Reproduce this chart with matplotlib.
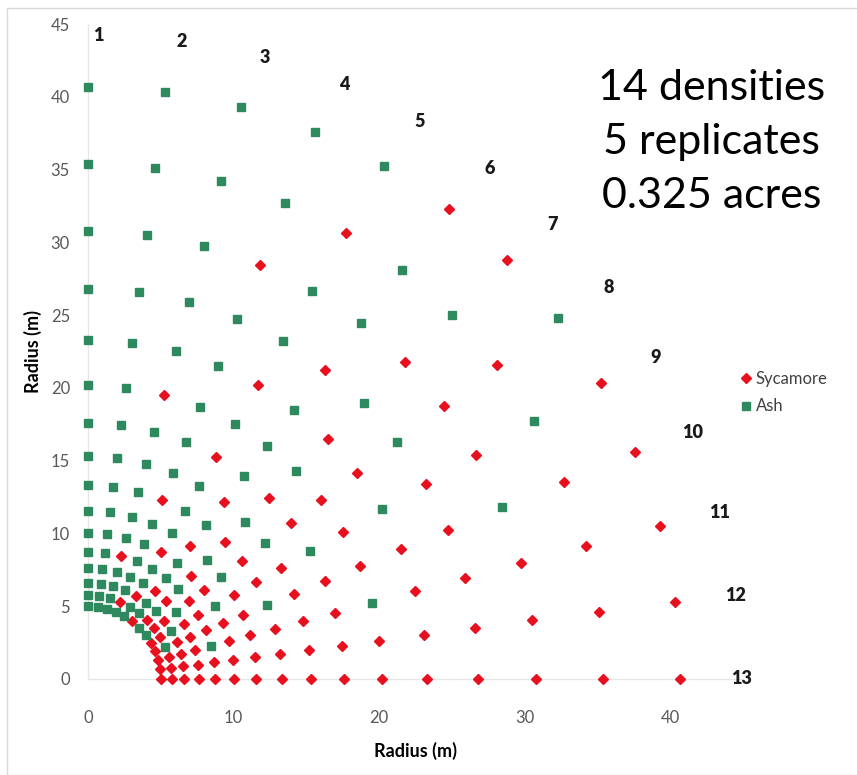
import numpy as np
import matplotlib.pyplot as plt
from matplotlib.patches import Rectangle

plt.rcParams['font.family'] = ['Lato', 'DejaVu Sans']

# Nelder wheel: arc radii (m), spoke angles (deg) and species along each spoke
RADII = [5.0, 5.75, 6.6, 7.6, 8.75, 10.05, 11.55, 13.3, 15.3, 17.6,
         20.2, 23.3, 26.8, 30.8, 35.4, 40.7]
SPOKE_ANGLES = [90, 82.5, 75, 67.5, 60, 52.5, 45, 37.5, 30, 22.5, 15, 7.5, 0]
SPOKE_LABELS = [str(i) for i in range(1, 14)]
# A = Ash, S = Sycamore, one character per arc (inner -> outer)
LAYOUT = [
    "AAAAAAAAAAAAAAAA",
    "AAAAAAAAAAAAAAAA",
    "AAAASAAAAASAAAAA",
    "ASAAAAASAAAAASAA",
    "AASAASAAASASAASA",
    "SAASAASASAAASAAS",
    "ASASASASASASASAS",
    "ASSASSASASSSASSA",
    "SSASSASSSASASSAS",
    "SASSSSSASSSSSASS",
    "SSSSASSSSSASSSSS",
    "SSSSSSSSSSSSSSSS",
    "SSSSSSSSSSSSSSSS",
]
SUMMARY = "14 densities\n5 replicates\n0.325 acres"

RED = "#e8101e"
GREEN = "#2e8a5e"

radii = np.array(RADII)
syc_x, syc_y, ash_x, ash_y = [], [], [], []
for ang, row in zip(SPOKE_ANGLES, LAYOUT):
    t = np.deg2rad(ang)
    for r, sp in zip(radii, row):
        x, y = r * np.cos(t), r * np.sin(t)
        if sp == "S":
            syc_x.append(x); syc_y.append(y)
        else:
            ash_x.append(x); ash_y.append(y)

fig = plt.figure(figsize=(8.57, 7.75), dpi=100)
ax = fig.add_axes([0.1027, 0.1239, 0.764, 0.845])

ax.plot(syc_x, syc_y, ls="none", marker="D", ms=5.0, color=RED,
        mec=RED, clip_on=False, zorder=3, label="Sycamore")
ax.plot(ash_x, ash_y, ls="none", marker="s", ms=6.4, color=GREEN,
        mec=GREEN, clip_on=False, zorder=3, label="Ash")

# spoke numbers
for ang, lab in zip(SPOKE_ANGLES, SPOKE_LABELS):
    t = np.deg2rad(ang)
    ax.text(44.2 * np.cos(t) + 0.7, 44.2 * np.sin(t), lab, ha="center",
            va="center", fontsize=13, fontweight="heavy", color="#1a1a1a")

ax.set_xlim(0, 45)
ax.set_ylim(0, 45)
ax.set_xticks(range(0, 41, 10))
ax.set_yticks(range(0, 46, 5))
ax.tick_params(length=0, labelsize=12, labelcolor="#595959")
ax.tick_params(axis="x", pad=22)
ax.tick_params(axis="y", pad=13)
for side in ("top", "right"):
    ax.spines[side].set_visible(False)
for side in ("left", "bottom"):
    ax.spines[side].set_color("#e6e6e6")
    ax.spines[side].set_linewidth(1)

ax.set_xlabel("Radius (m)", fontsize=13, fontweight="bold", labelpad=12)
ax.set_ylabel("Radius (m)", fontsize=13, fontweight="bold", labelpad=6)

ax.legend(loc="upper left", bbox_to_anchor=(0.843, 0.541),
          bbox_transform=fig.transFigure, frameon=False, fontsize=12,
          handletextpad=0.1, handlelength=1.0, labelspacing=0.7,
          labelcolor="#404040")

fig.text(0.830, 0.8168, SUMMARY, ha="center", va="center", fontsize=31,
         linespacing=1.52, color="black")

fig.patches.append(Rectangle((7 / 857, 0), 1, 1 - 8 / 775,
                             transform=fig.transFigure, fill=False,
                             edgecolor="#d9d9d9", linewidth=1))

fig.savefig("out.png", dpi=100, facecolor="white")
